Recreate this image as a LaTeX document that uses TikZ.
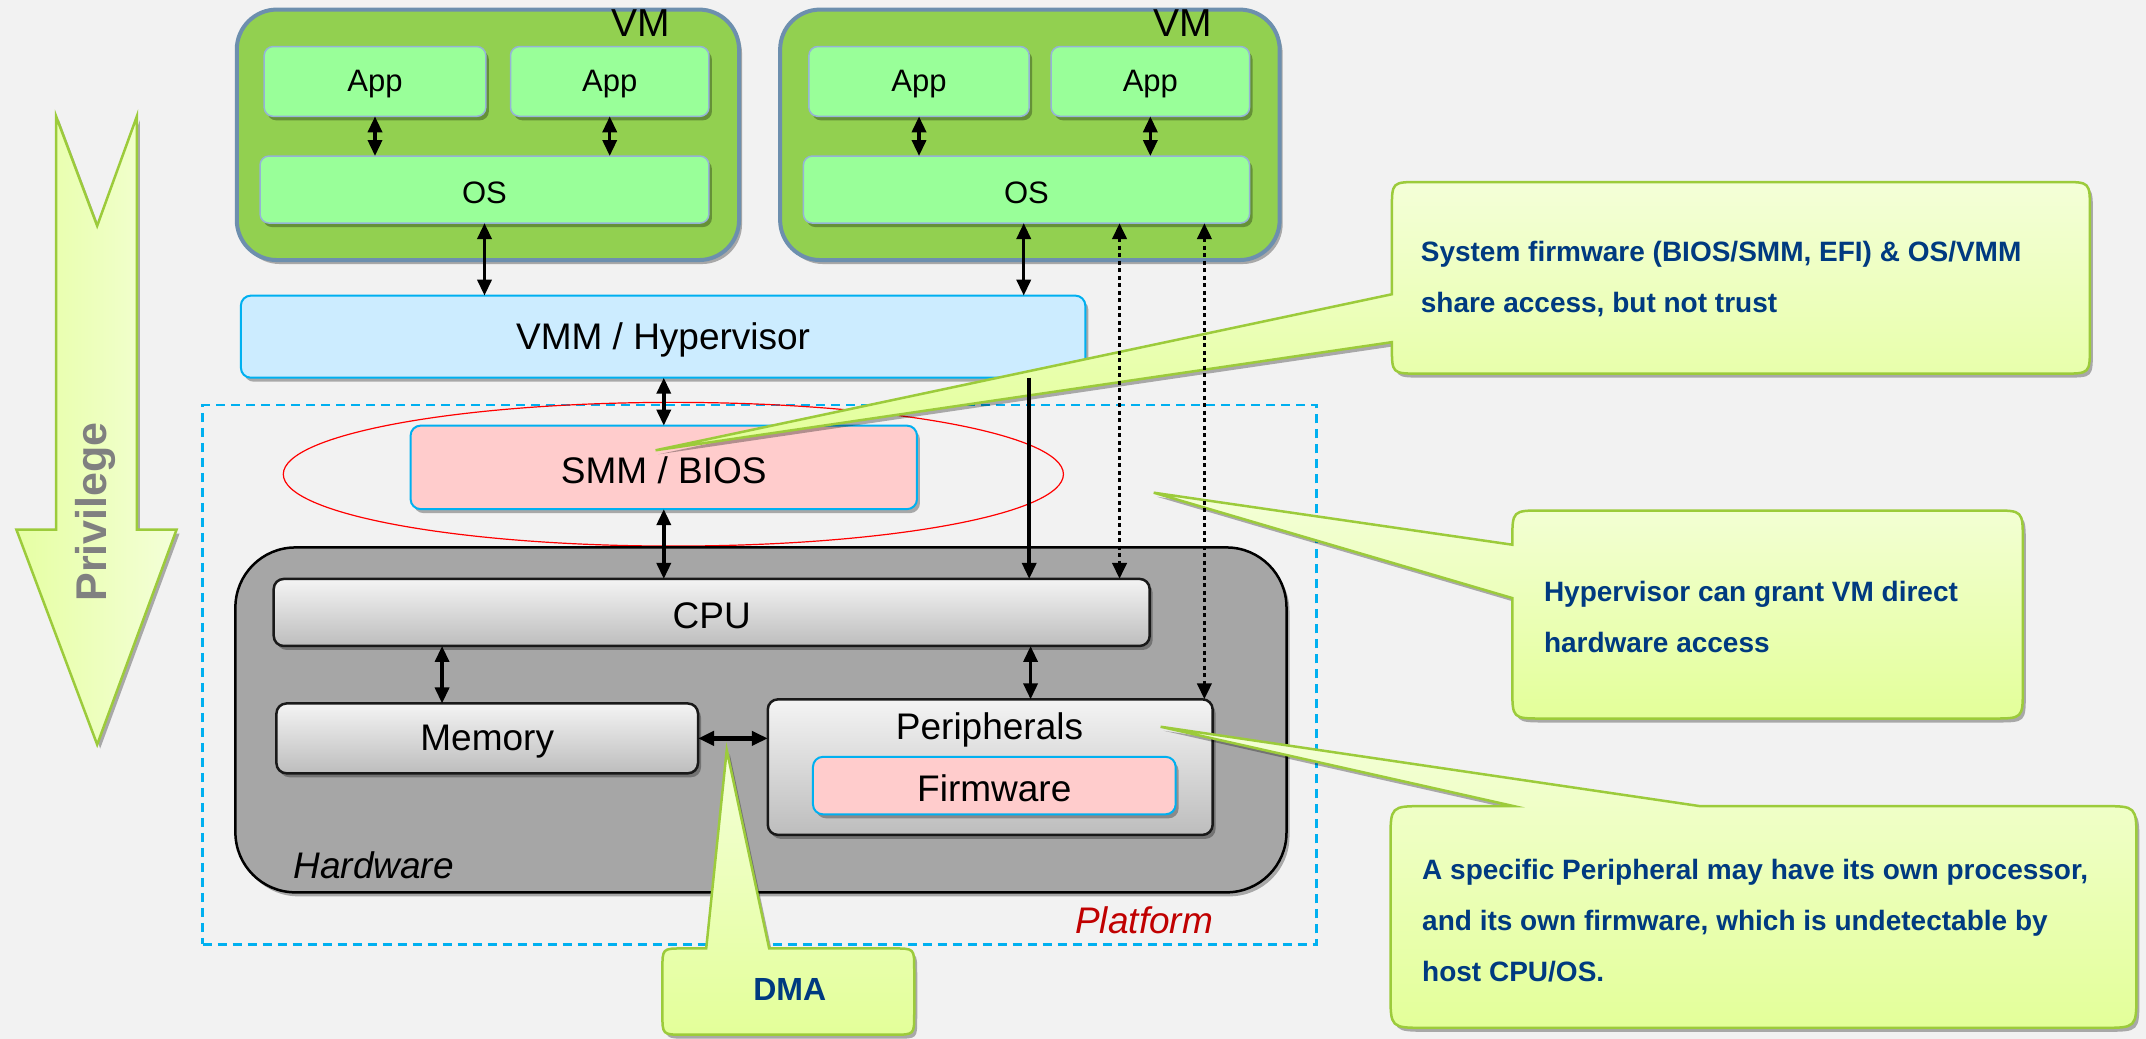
\documentclass[tikz,border=0pt]{standalone}
\usepackage{fontspec}
\setmainfont{Liberation Sans}
\usetikzlibrary{arrows.meta,fit,shadows,shapes.geometric}
\definecolor{bg}{HTML}{F2F2F2}
\definecolor{vmfill}{HTML}{92D050}
\definecolor{vmline}{HTML}{6D8FAE}
\definecolor{appfill}{HTML}{99FF99}
\definecolor{appline}{HTML}{95B3D7}
\definecolor{vmmfill}{HTML}{CCECFF}
\definecolor{cyanline}{HTML}{00B0F0}
\definecolor{pinkfill}{HTML}{FFCCCC}
\definecolor{hwfill}{HTML}{A6A6A6}
\definecolor{calltop}{HTML}{F4FFD8}
\definecolor{callbot}{HTML}{E3FF99}
\definecolor{callline}{HTML}{9CCB3B}
\definecolor{calltext}{HTML}{003A80}
\definecolor{platred}{HTML}{C00000}
\definecolor{gtop}{HTML}{F4F4F4}
\definecolor{gbot}{HTML}{BDBDBD}
\definecolor{privgray}{HTML}{808080}
\begin{document}
\begin{tikzpicture}[x=1.3686pt,y=-1.3686pt,
  >={Triangle[length=16pt,width=14pt]},
  shad/.style={drop shadow={shadow xshift=3pt,shadow yshift=-4pt,opacity=0.3,fill=black}},
  vmbox/.style={draw=vmline,line width=4pt,fill=vmfill,rounded corners=40pt,shad},
  fitbase/.style={inner sep=0pt,outer sep=0pt},
  tsmall/.style={font=\fontsize{31}{37}\selectfont,inner sep=0pt,yshift=-3pt},
  tbig/.style={font=\fontsize{37}{44}\selectfont,inner sep=0pt,yshift=-3pt},
  appbox/.style={fitbase,draw=appline,line width=1.5pt,fill=appfill,rounded corners=9pt,shad},
  vmmbox/.style={fitbase,draw=cyanline,line width=2pt,fill=vmmfill,rounded corners=10pt,shad},
  smmbox/.style={fitbase,draw=cyanline,line width=2pt,fill=pinkfill,rounded corners=10pt,shad},
  hwbox/.style={fitbase,draw=black,line width=2.5pt,fill=hwfill,rounded corners=60pt,shad},
  gbox/.style={fitbase,draw=black!90,line width=2.5pt,top color=gtop,bottom color=gbot,rounded corners=10pt,shad},
  callout/.style={draw=callline,line width=2.5pt,top color=calltop,bottom color=callbot,shad},
  calltxt/.style={anchor=west,align=left,inner sep=0pt,text=calltext,font=\bfseries\fontsize{28}{51}\selectfont},
  arr/.style={line width=3.5pt,<->},
  dotarr/.style={line width=3.8pt,<->,dash pattern=on 4pt off 3.5pt}
]
\path[use as bounding box,fill=bg] (0,0) rectangle (1568,759);

% Privilege arrow
\path[draw=callline,line width=2.5pt,left color=callbot!90!white,right color=calltop,shad]
  (41,85) -- (71,165) -- (100,85) -- (100,387) -- (129,387) -- (71,544) -- (12,387) -- (41,387) -- cycle;
\node[rotate=90,text=privgray,font=\bfseries\fontsize{43}{50}\selectfont] (priv) at (70,374) {Privilege};

% VMs
\node[vmbox,fitbase,fit={(173,7) (540,190)}] (vm1) {};
\node[vmbox,fitbase,fit={(570,7) (935,190)}] (vm2) {};
\node[font=\fontsize{39}{45}\selectfont,inner sep=0pt] (vm1l) at (468,17) {VM};
\node[font=\fontsize{39}{45}\selectfont,inner sep=0pt] (vm2l) at (864,17) {VM};
\node[appbox,fit={(193,34) (355,85)},label={[tsmall]center:App}] (app1) {};
\node[appbox,fit={(373,34) (518,85)},label={[tsmall]center:App}] (app2) {};
\node[appbox,fit={(190,114) (518,163)},label={[tsmall]center:OS}] (os1) {};
\node[appbox,fit={(591,34) (752,85)},label={[tsmall]center:App}] (app3) {};
\node[appbox,fit={(768,34) (913,85)},label={[tsmall]center:App}] (app4) {};
\node[appbox,fit={(587,114) (913,163)},label={[tsmall]center:OS}] (os2) {};

% VMM
\node[vmmbox,fit={(176,216) (793,276)},label={[tbig]center:VMM / Hypervisor}] (vmm) {};

% Platform
\node[fitbase,draw=cyanline,line width=2.5pt,dash pattern=on 9pt off 6pt,fit={(148,296) (962,690)}] (plat) {};
\node[fitbase,draw=red,line width=1.2pt,ellipse,minimum width=570*1.3686pt,minimum height=105*1.3686pt] (ell) at (492,346.5) {};
\node[smmbox,fit={(300,311) (670,372)},label={[tbig]center:SMM / BIOS}] (smm) {};

% Hardware
\node[hwbox,fit={(172,400) (940,652)}] (hw) {};
\node[gbox,fit={(200,423) (840,472)},label={[tbig]center:CPU}] (cpu) {};
\node[gbox,fit={(202,514) (510,565)},label={[tbig]center:Memory}] (mem) {};
\node[gbox,fit={(561,511) (886,610)}] (per) {};
\node[tbig] (pertxt) at (723,531) {Peripherals};
\node[smmbox,fit={(594,553) (859,595)},label={[tbig]center:Firmware}] (fw) {};
\node[tbig,font=\itshape\fontsize{37}{44}\selectfont] (hwtxt) at (273,630) {Hardware};
\node[tbig,text=platred,font=\itshape\fontsize{37}{44}\selectfont] (plattxt) at (836,670) {Platform};

% Callouts
\path[callout] (1037,133) -- (1507,133) .. controls (1527,133) .. (1527,153) -- (1527,253)
  .. controls (1527,273) .. (1507,273) -- (1037,273) .. controls (1017,273) .. (1017,253)
  -- (1017,250) -- (479,329) -- (1017,215) -- (1017,153) .. controls (1017,133) .. (1037,133) -- cycle;
\node[calltxt] (c1) at (1038,204) {System firmware (BIOS/SMM, EFI) \& OS/VMM\\share access, but not trust};

\path[callout] (1127,373) -- (1456,373) .. controls (1478,373) .. (1478,395) -- (1478,503)
  .. controls (1478,525) .. (1456,525) -- (1127,525) .. controls (1105,525) .. (1105,503)
  -- (1105,437) -- (843,360) -- (1105,398) -- (1105,395) .. controls (1105,373) .. (1127,373) -- cycle;
\node[calltxt] (c2) at (1128,451) {Hypervisor can grant VM direct\\hardware access};

\path[callout] (1041,589) -- (1106,589) -- (848,531) -- (1242,589) -- (1536,589)
  .. controls (1561,589) .. (1561,614) -- (1561,726) .. controls (1561,751) .. (1536,751)
  -- (1041,751) .. controls (1016,751) .. (1016,726) -- (1016,614) .. controls (1016,589) .. (1041,589) -- cycle;
\node[calltxt] (c3) at (1039,673) {A specific Peripheral may have its own processor,\\and its own firmware, which is undetectable by\\host CPU/OS.};

\path[callout] (499,693) -- (516,693) -- (531,548) -- (562,693) -- (653,693) .. controls (668,693) .. (668,708)
  -- (668,741) .. controls (668,756) .. (653,756) -- (499,756) .. controls (484,756) .. (484,741)
  -- (484,708) .. controls (484,693) .. (499,693) -- cycle;
\node[calltxt,anchor=center,font=\bfseries\fontsize{32}{38}\selectfont] (dma) at (577,723) {DMA};

% Connectors
\coordinate (xcm) at (323,0);
\coordinate (xcp) at (753,0);
\coordinate (xs) at (752,0);
\coordinate (xo) at (748,0);
\coordinate (xd1) at (818,0);
\coordinate (xd2) at (880,0);
\draw[arr] (app1) -- (app1 |- os1.north);
\draw[arr] (app2) -- (app2 |- os1.north);
\draw[arr] (app3) -- (app3 |- os2.north);
\draw[arr] (app4) -- (app4 |- os2.north);
\draw[arr] (os1) -- (os1 |- vmm.north);
\draw[arr] (os2.south -| xo) -- (vmm.north -| xo);
\draw[arr] (vmm.south -| smm.north) -- (smm.north);
\draw[arr] (smm.south) -- (smm.south |- cpu.north);
\draw[line width=3.5pt,->] (vmm.south -| xs) -- (cpu.north -| xs);
\draw[dotarr] (os2.south -| xd1) -- (cpu.north -| xd1);
\draw[dotarr] (os2.south -| xd2) -- (per.north -| xd2);
\draw[arr] (cpu.south -| xcm) -- (mem.north -| xcm);
\draw[arr] (cpu.south -| xcp) -- (per.north -| xcp);
\draw[line width=5pt,<->] (mem.east) -- (mem.east -| per.west);
\end{tikzpicture}
\end{document}
